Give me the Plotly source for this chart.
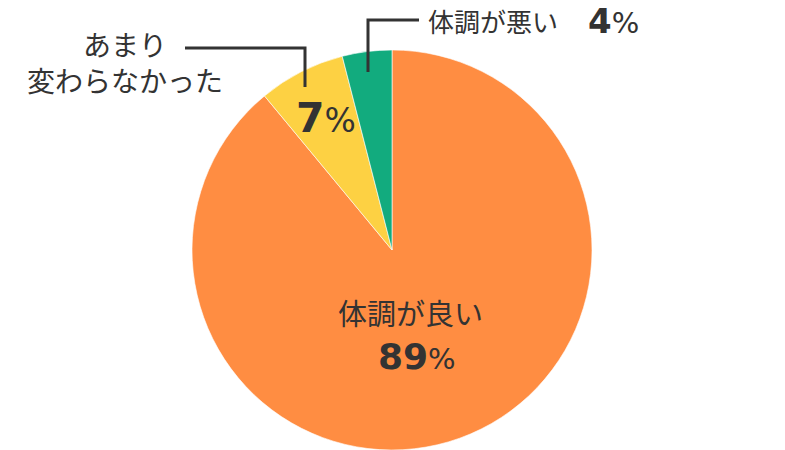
import plotly.graph_objects as go

W, H = 785, 450

labels = ["体調が良い", "あまり<br>変わらなかった", "体調が悪い"]
values = [89, 7, 4]
colors = ["#FF8D42", "#FDD143", "#12AB7E"]

FONT = "Noto Sans CJK JP"
NUMFONT = "DejaVu Sans"
TXT = "#333333"

def px(x):
    return x / W

def py(y):
    return 1 - y / H

fig = go.Figure()
fig.add_trace(go.Pie(
    labels=labels,
    values=values,
    sort=False,
    direction="clockwise",
    rotation=0,
    marker=dict(colors=colors, line=dict(color="rgba(255,255,255,0.6)", width=1)),
    textinfo="none",
    hoverinfo="none",
    showlegend=False,
    domain=dict(x=[px(192), px(592)], y=[py(450), py(50)]),
))

def pct(v, big, small):
    return (f"<b><span style='font-size:{big}px'>{v}</span></b>"
            f"<span style='font-size:{small}px'>%</span>")

ann = [
    dict(x=px(410), y=py(312), text=labels[0], size=29, fam=FONT),
    dict(x=px(417), y=py(356), text=pct(values[0], 36, 29), size=36, fam=NUMFONT),
    dict(x=px(125), y=py(62), text=labels[1], size=28, fam=FONT),
    dict(x=px(326), y=py(118), text=pct(values[1], 41, 33), size=41, fam=NUMFONT),
    dict(x=px(493), y=py(21), text=labels[2], size=26, fam=FONT),
    dict(x=px(613), y=py(21), text=pct(values[2], 34, 29), size=34, fam=NUMFONT),
]
annotations = []
for a in ann:
    annotations.append(dict(
        x=a["x"], y=a["y"], xref="paper", yref="paper",
        text=a["text"], showarrow=False,
        xanchor="center", yanchor="middle",
        font=dict(family=a["fam"], size=a["size"], color=TXT),
    ))

line = dict(color="#333333", width=3)
shapes = [
    dict(type="path", xref="paper", yref="paper",
         path=f"M {px(185)} {py(48)} L {px(305)} {py(48)} L {px(305)} {py(87)}",
         line=line),
    dict(type="path", xref="paper", yref="paper",
         path=f"M {px(368)} {py(72)} L {px(368)} {py(20)} L {px(419)} {py(20)}",
         line=line),
]

fig.update_layout(
    width=W, height=H,
    margin=dict(l=0, r=0, t=0, b=0),
    paper_bgcolor="white",
    plot_bgcolor="white",
    annotations=annotations,
    shapes=shapes,
)

fig.write_html(
    "out.html",
    config={"displayModeBar": False},
    post_script="document.body.style.margin='0';document.body.style.overflow='hidden';",
)
